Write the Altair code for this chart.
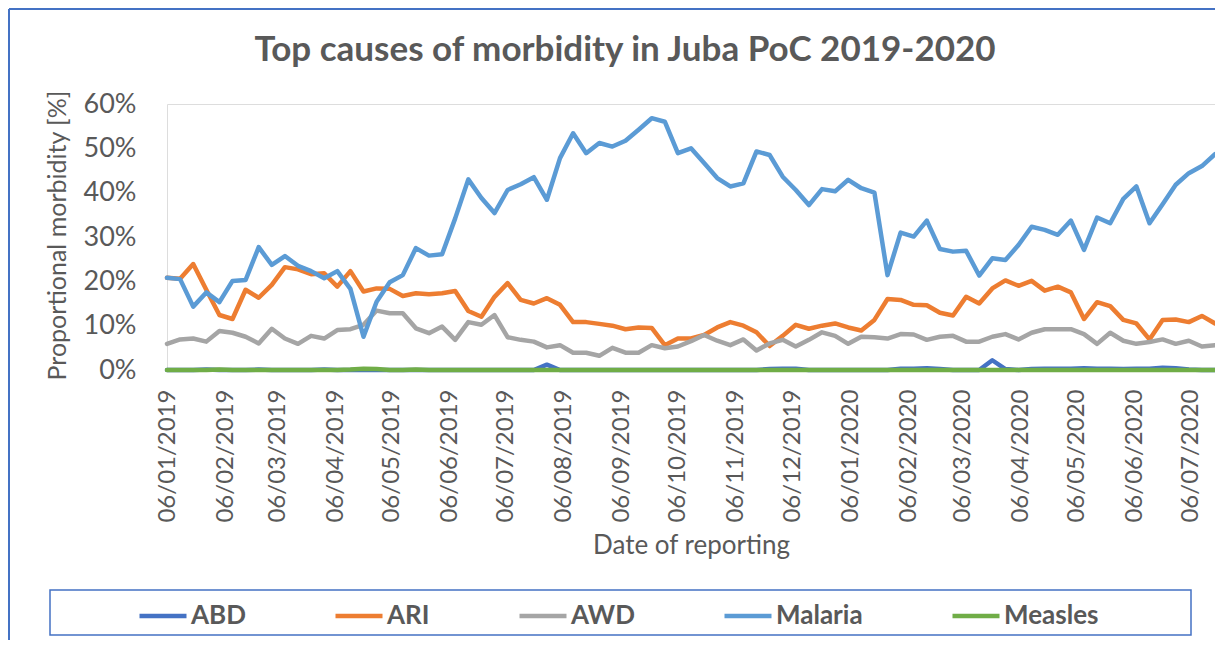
import altair as alt
import pandas as pd

# ---- data (percent of consultations, weekly, starting 06/01/2019) ----
start_date = "2019-01-06"
n_weeks = 81

malaria = [20.8, 20.5, 14.3, 17.5, 15.3, 20.1, 20.3, 27.7, 23.7, 25.7,
           23.5, 22.3, 20.7, 22.3, 18.3, 7.5, 15.4, 19.8, 21.4, 27.5,
           25.8, 26.1, 34.2, 43.0, 38.8, 35.4, 40.6, 41.9, 43.5, 38.4,
           47.8, 53.4, 48.9, 51.2, 50.4, 51.7, 54.2, 56.8, 56.0, 48.9,
           50.0, 46.7, 43.3, 41.4, 42.1, 49.3, 48.5, 43.6, 40.6, 37.2,
           40.8, 40.3, 42.9, 41.0, 40.0, 21.4, 31.0, 30.1, 33.7, 27.3,
           26.7, 26.9, 21.3, 25.2, 24.8, 28.2, 32.3, 31.6, 30.5, 33.7,
           27.1, 34.4, 33.1, 38.6, 41.4, 33.1, 37.4, 41.8, 44.4, 46.0,
           48.7]
ari = [20.8, 20.6, 23.9, 18.1, 12.4, 11.5, 18.1, 16.3, 19.2, 23.2,
       22.7, 21.6, 21.8, 18.8, 22.3, 17.7, 18.4, 18.3, 16.7, 17.3,
       17.1, 17.3, 17.8, 13.3, 12.0, 16.5, 19.6, 15.8, 15.0, 16.2,
       14.7, 10.8, 10.8, 10.4, 10.0, 9.2, 9.6, 9.5, 5.6, 7.1,
       7.1, 7.9, 9.6, 10.8, 10.0, 8.5, 5.4, 7.7, 10.2, 9.3,
       10.0, 10.5, 9.6, 8.9, 11.3, 16.0, 15.8, 14.7, 14.6, 12.9,
       12.3, 16.5, 15.0, 18.4, 20.2, 19.0, 20.1, 17.9, 18.8, 17.5,
       11.5, 15.3, 14.4, 11.3, 10.5, 6.9, 11.3, 11.4, 10.8, 12.2,
       10.5]
awd = [5.9, 6.9, 7.1, 6.4, 8.8, 8.4, 7.5, 6.0, 9.3, 7.1,
       5.9, 7.7, 7.1, 9.0, 9.2, 10.2, 13.4, 12.8, 12.8, 9.4,
       8.3, 9.8, 6.8, 10.8, 10.2, 12.4, 7.4, 6.8, 6.4, 5.1,
       5.6, 3.9, 3.9, 3.2, 5.0, 3.9, 3.9, 5.6, 4.9, 5.3,
       6.5, 7.9, 6.6, 5.6, 6.9, 4.4, 6.0, 6.8, 5.3, 6.8,
       8.5, 7.7, 5.9, 7.5, 7.4, 7.1, 8.1, 8.0, 6.8, 7.5,
       7.7, 6.4, 6.4, 7.5, 8.1, 6.9, 8.4, 9.2, 9.2, 9.2,
       8.1, 5.9, 8.4, 6.6, 5.9, 6.3, 6.9, 5.9, 6.6, 5.3,
       5.6]
abd = [0.0, 0.0, 0.0, 0.1, 0.0, 0.0, 0.0, 0.1, 0.0, 0.0,
       0.0, 0.0, 0.1, 0.0, 0.0, 0.0, 0.0, 0.0, 0.0, 0.0,
       0.0, 0.0, 0.0, 0.0, 0.0, 0.0, 0.0, 0.0, 0.0, 1.2,
       0.0, 0.0, 0.0, 0.0, 0.0, 0.0, 0.0, 0.0, 0.0, 0.0,
       0.0, 0.0, 0.0, 0.0, 0.0, 0.0, 0.2, 0.3, 0.3, 0.0,
       0.0, 0.0, 0.0, 0.0, 0.0, 0.0, 0.3, 0.3, 0.4, 0.2,
       0.0, 0.0, 0.0, 2.2, 0.2, 0.0, 0.2, 0.3, 0.3, 0.3,
       0.4, 0.3, 0.3, 0.2, 0.3, 0.3, 0.5, 0.4, 0.1, 0.0,
       0.0]
measles = [0.0, 0.0, 0.0, 0.0, 0.1, 0.0, 0.0, 0.0, 0.0, 0.0,
           0.0, 0.0, 0.0, 0.0, 0.1, 0.3, 0.2, 0.0, 0.0, 0.1,
           0.0, 0.0, 0.0, 0.0, 0.0, 0.0, 0.0, 0.0, 0.0, 0.0,
           0.0, 0.0, 0.0, 0.0, 0.0, 0.0, 0.0, 0.0, 0.0, 0.0,
           0.0, 0.0, 0.0, 0.0, 0.0, 0.0, 0.0, 0.0, 0.0, 0.0,
           0.0, 0.0, 0.0, 0.0, 0.0, 0.0, 0.0, 0.0, 0.0, 0.0,
           0.0, 0.0, 0.0, 0.0, 0.0, 0.0, 0.0, 0.0, 0.0, 0.0,
           0.0, 0.0, 0.0, 0.0, 0.0, 0.0, 0.0, 0.0, 0.0, 0.0,
           0.0]

series_names = ["ABD", "ARI", "AWD", "Malaria", "Measles"]
series_colors = ["#4472C4", "#ED7D31", "#A5A5A5", "#5B9BD5", "#70AD47"]
y_ticks = [0, 10, 20, 30, 40, 50, 60]
tick_months = [(2019, m) for m in range(1, 13)] + [(2020, m) for m in range(1, 8)]

dates = pd.date_range(start_date, periods=n_weeks, freq="7D").strftime("%Y-%m-%dT00:00:00")
rows = []
for name, vals in zip(series_names, [abd, ari, awd, malaria, measles]):
    for d, v in zip(dates, vals):
        rows.append({"date": d, "series": name, "value": v})
df = pd.DataFrame(rows)

GREY = "#595959"
FONT = "Lato"

x_axis = alt.Axis(
    values=[alt.DateTime(year=y, month=m, date=6) for y, m in tick_months],
    format="%d/%m/%Y", labelAngle=270, labelAlign="right", labelBaseline="middle",
    labelPadding=19, ticks=False, domain=False, grid=False,
    labelFont=FONT, labelFontSize=24, labelColor=GREY,
    labelOverlap=False, labelFlush=False,
    title="Date of reporting", titleFont=FONT, titleFontSize=26,
    titleFontWeight="normal", titleColor=GREY,
    titleX=524, titleY=175, titleBaseline="middle", titleAlign="center",
)
y_axis = alt.Axis(
    values=y_ticks, labelExpr="datum.value + '%'",
    ticks=False, domain=False, grid=False, labelPadding=31,
    labelFont=FONT, labelFontSize=27, labelColor=GREY,
    title="Proportional morbidity [%]", titleFont=FONT, titleFontSize=25,
    titleFontWeight="normal", titleColor=GREY, titleAngle=270,
    titleX=-110, titleY=131, titleBaseline="middle", titleAlign="center",
)

lines = alt.Chart(df).mark_line(strokeWidth=4.5, strokeJoin="round", strokeCap="round").encode(
    x=alt.X("date:T", axis=x_axis,
            scale=alt.Scale(domain=[alt.DateTime(year=2019, month=1, date=6),
                                    alt.DateTime(year=2020, month=7, date=19)], nice=False)),
    y=alt.Y("value:Q", axis=y_axis, scale=alt.Scale(domain=[0, 60], nice=False)),
    color=alt.Color("series:N",
                    scale=alt.Scale(domain=series_names, range=series_colors),
                    legend=alt.Legend(orient="none", legendX=-30, legendY=486,
                                      direction="horizontal", columns=5, title=None,
                                      symbolType="stroke", symbolSize=2209,
                                      symbolStrokeWidth=4.5, labelFont=FONT,
                                      labelFontWeight="bold", labelFontSize=26,
                                      labelColor=GREY, columnPadding=80,
                                      labelOffset=2, padding=0)),
)

frame_df = pd.DataFrame({"k": [0]})
frame_left = alt.Chart(frame_df).mark_rule(color="#4472C4", strokeWidth=2).encode(
    x=alt.value(-158), y=alt.value(-95), y2=alt.value(560))
frame_top = alt.Chart(frame_df).mark_rule(color="#4472C4", strokeWidth=2).encode(
    x=alt.value(-158), x2=alt.value(1060), y=alt.value(-95))
legend_box = alt.Chart(frame_df).mark_rect(fillOpacity=0, stroke="#4472C4", strokeWidth=1.5).encode(
    x=alt.value(-117), x2=alt.value(1024), y=alt.value(486), y2=alt.value(531))

chart = alt.layer(frame_left, frame_top, legend_box, lines).properties(
    width=1048, height=266,
    autosize=alt.AutoSizeParams(type="none"),
    padding={"left": 159, "top": 96, "right": 0, "bottom": 270},
    title=alt.TitleParams(
        "Top causes of morbidity in Juba PoC 2019-2020",
        font=FONT, fontSize=35, fontWeight="bold", color=GREY,
        anchor="middle", dx=-66, offset=0, dy=88, baseline="alphabetic"),
).configure_view(stroke=None).configure(background="white")

chart.save("out.html", embed_options={"renderer": "svg", "actions": False})
